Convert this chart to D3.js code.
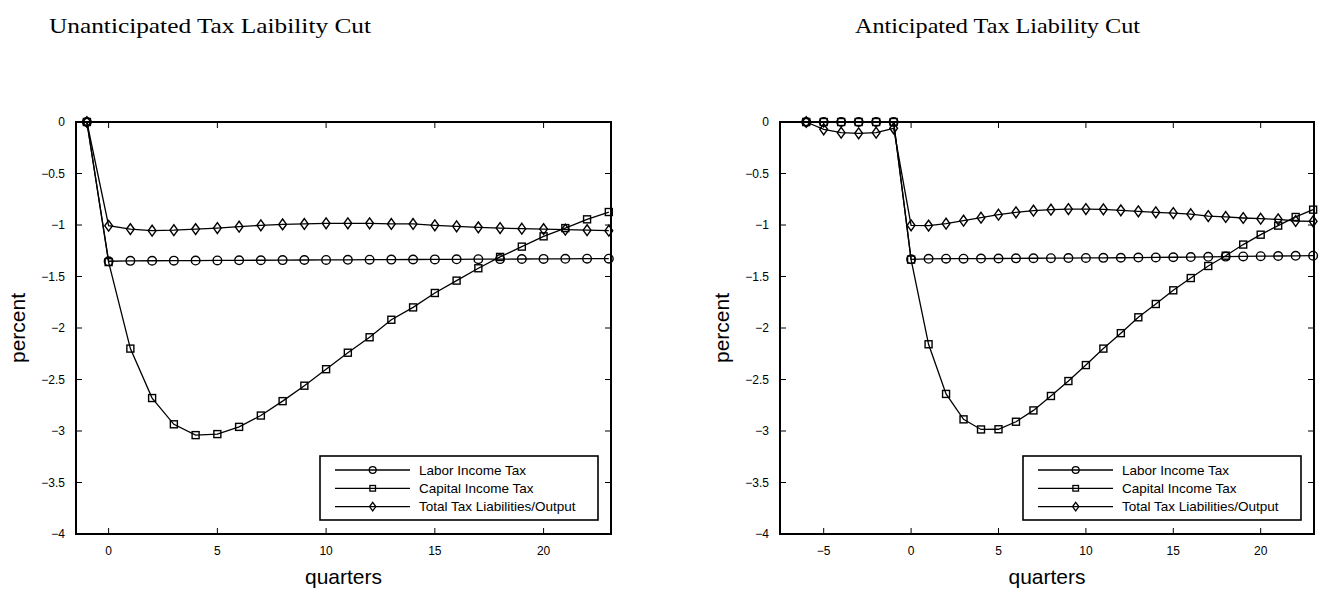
<!DOCTYPE html>
<html>
<head>
<meta charset="utf-8">
<script src="https://cdn.jsdelivr.net/npm/d3@7"></script>
<style>
  body { margin: 0; background: #fff; }
  text { font-family: "Liberation Sans", Arial, sans-serif; fill: #000; }
</style>
</head>
<body>
<div id="chart"></div>
<script>
// ---- data ----
const seriesNames = ["Labor Income Tax", "Capital Income Tax", "Total Tax Liabilities/Output"]

// unanticipated cut: quarters -1 .. 23
const quartersU = d3.range(-1, 24)
const laborU = [0, -1.352, -1.348, -1.347, -1.346, -1.345, -1.344, -1.343, -1.342, -1.341, -1.340, -1.339,
  -1.338, -1.337, -1.336, -1.335, -1.334, -1.333, -1.332, -1.331, -1.330, -1.329, -1.328, -1.327, -1.327]
const capitalU = [0, -1.36, -2.20, -2.68, -2.935, -3.04, -3.03, -2.96, -2.85, -2.71, -2.56, -2.40,
  -2.24, -2.09, -1.92, -1.80, -1.66, -1.54, -1.42, -1.31, -1.21, -1.11, -1.03, -0.945, -0.874]
const totalU = [0, -1.007, -1.04, -1.055, -1.05, -1.04, -1.03, -1.016, -1.003, -0.994, -0.99, -0.984,
  -0.984, -0.984, -0.99, -0.99, -1.003, -1.013, -1.023, -1.03, -1.036, -1.04, -1.045, -1.05, -1.055]

// anticipated cut: quarters -6 .. 23
const quartersA = d3.range(-6, 24)
const laborA = [0, 0, 0, 0, 0, 0, -1.333, -1.328, -1.327, -1.327, -1.326, -1.325, -1.324, -1.323,
  -1.322, -1.321, -1.320, -1.319, -1.318, -1.316, -1.315, -1.313, -1.311, -1.309, -1.307, -1.305,
  -1.303, -1.301, -1.299, -1.298]
const capitalA = [0, 0, 0, 0, 0, 0, -1.336, -2.158, -2.64, -2.887, -2.985, -2.983, -2.91, -2.80,
  -2.66, -2.515, -2.36, -2.20, -2.05, -1.896, -1.767, -1.634, -1.515, -1.398, -1.298, -1.19,
  -1.094, -1.006, -0.922, -0.851]
const totalA = [0, -0.071, -0.104, -0.11, -0.104, -0.061, -1.003, -1.006, -0.987, -0.958, -0.929,
  -0.90, -0.877, -0.861, -0.851, -0.845, -0.845, -0.848, -0.858, -0.867, -0.877, -0.884, -0.895,
  -0.913, -0.922, -0.932, -0.939, -0.945, -0.961, -0.964]

const yTicks = [0, -0.5, -1, -1.5, -2, -2.5, -3, -3.5, -4]
const xTicksU = [0, 5, 10, 15, 20]
const xTicksA = [-5, 0, 5, 10, 15, 20]

const W = 1328, H = 590

const svg = d3.select("#chart")
  .append("svg")
  .attr("width", W)
  .attr("height", H)

const fmt = v => (v < 0 ? "\u2212" : "") + Math.abs(v)

// marker shapes, drawn hollow
function marker(g, kind, x, y, s) {
  if (kind === 0) {
    g.append("circle").attr("cx", x).attr("cy", y).attr("r", 4.3 * s)
  } else if (kind === 1) {
    const h = 3.5 * s
    g.append("rect").attr("x", x - h).attr("y", y - h).attr("width", 2 * h).attr("height", 2 * h)
  } else {
    const a = 3.9 * s, b = 5.4 * s
    g.append("path").attr("d", `M${x},${y - b}L${x + a},${y}L${x},${y + b}L${x - a},${y}Z`)
  }
}

function drawPanel(p) {
  const x = d3.scaleLinear().domain(p.xDomain).range([p.left, p.right])
  const y = d3.scaleLinear().domain([-4, 0]).range([p.bottom, p.top])

  const g = svg.append("g")

  // title
  g.append("text")
    .attr("x", p.titleX)
    .attr("y", 33)
    .attr("textLength", p.titleLen)
    .attr("lengthAdjust", "spacingAndGlyphs")
    .style("font-family", "'Liberation Serif', 'DejaVu Serif', serif")
    .style("font-size", "22px")
    .text(p.title)

  // ticks on all four sides, pointing in
  const tk = 6
  p.xTicks.forEach(t => {
    g.append("line").attr("x1", x(t)).attr("x2", x(t)).attr("y1", p.bottom).attr("y2", p.bottom - tk)
      .attr("stroke", "#000").attr("stroke-width", 1)
    g.append("line").attr("x1", x(t)).attr("x2", x(t)).attr("y1", p.top).attr("y2", p.top + tk)
      .attr("stroke", "#000").attr("stroke-width", 1)
    g.append("text")
      .attr("x", x(t)).attr("y", p.bottom + 21)
      .attr("text-anchor", "middle")
      .style("font-size", "12px")
      .text(fmt(t))
  })
  yTicks.forEach(t => {
    g.append("line").attr("x1", p.left).attr("x2", p.left + tk).attr("y1", y(t)).attr("y2", y(t))
      .attr("stroke", "#000").attr("stroke-width", 1)
    g.append("line").attr("x1", p.right).attr("x2", p.right - tk).attr("y1", y(t)).attr("y2", y(t))
      .attr("stroke", "#000").attr("stroke-width", 1)
    g.append("text")
      .attr("x", p.left - 11).attr("y", y(t) + 4)
      .attr("text-anchor", "end")
      .style("font-size", "12px")
      .text(fmt(t))
  })

  // axis labels
  g.append("text")
    .attr("transform", `translate(${p.left - 51},${(p.top + p.bottom) / 2}) rotate(-90)`)
    .attr("text-anchor", "middle")
    .style("font-size", "21px")
    .text("percent")
  g.append("text")
    .attr("x", (p.left + p.right) / 2).attr("y", 584)
    .attr("text-anchor", "middle")
    .style("font-size", "21px")
    .text("quarters")

  // series
  const plot = g.append("g")
    .attr("fill", "none")
    .attr("stroke", "#000")
  const line = d3.line().x(d => x(d[0])).y(d => y(d[1]))
  p.series.forEach((vals, k) => {
    const pts = p.quarters.map((q, i) => [q, vals[i]])
    plot.append("path").attr("d", line(pts)).attr("stroke-width", 1.3)
    const mk = plot.append("g").attr("stroke-width", 1.4)
    pts.forEach(d => marker(mk, k, x(d[0]), y(d[1]), 1))
  })

  // frame
  g.append("rect")
    .attr("x", p.left).attr("y", p.top)
    .attr("width", p.right - p.left).attr("height", p.bottom - p.top)
    .attr("fill", "none").attr("stroke", "#000").attr("stroke-width", 2)

  // legend
  const lx = p.right - 291, ly = 456
  const leg = g.append("g")
  leg.append("rect")
    .attr("x", lx).attr("y", ly).attr("width", 278).attr("height", 64)
    .attr("fill", "#fff").attr("stroke", "#000").attr("stroke-width", 1.6)
  seriesNames.forEach((name, k) => {
    const yy = ly + 14 + k * 18.3
    leg.append("line").attr("x1", lx + 15).attr("x2", lx + 90).attr("y1", yy).attr("y2", yy)
      .attr("stroke", "#000").attr("stroke-width", 1.3)
    const mk = leg.append("g").attr("fill", "none").attr("stroke", "#000").attr("stroke-width", 1.3)
    marker(mk, k, lx + 52.7, yy, 0.8)
    leg.append("text")
      .attr("x", lx + 99).attr("y", yy + 4.5)
      .style("font-size", "13.5px")
      .text(name)
  })
}

drawPanel({
  title: "Unanticipated Tax Laibility Cut", titleX: 49, titleLen: 322,
  left: 76, right: 611, top: 122, bottom: 534,
  xDomain: [-1.5, 23.1], xTicks: xTicksU,
  quarters: quartersU, series: [laborU, capitalU, totalU]
})

drawPanel({
  title: "Anticipated Tax Liability Cut", titleX: 855, titleLen: 285,
  left: 780, right: 1314, top: 122, bottom: 534,
  xDomain: [-7.5, 23.05], xTicks: xTicksA,
  quarters: quartersA, series: [laborA, capitalA, totalA]
})
</script>
</body>
</html>
